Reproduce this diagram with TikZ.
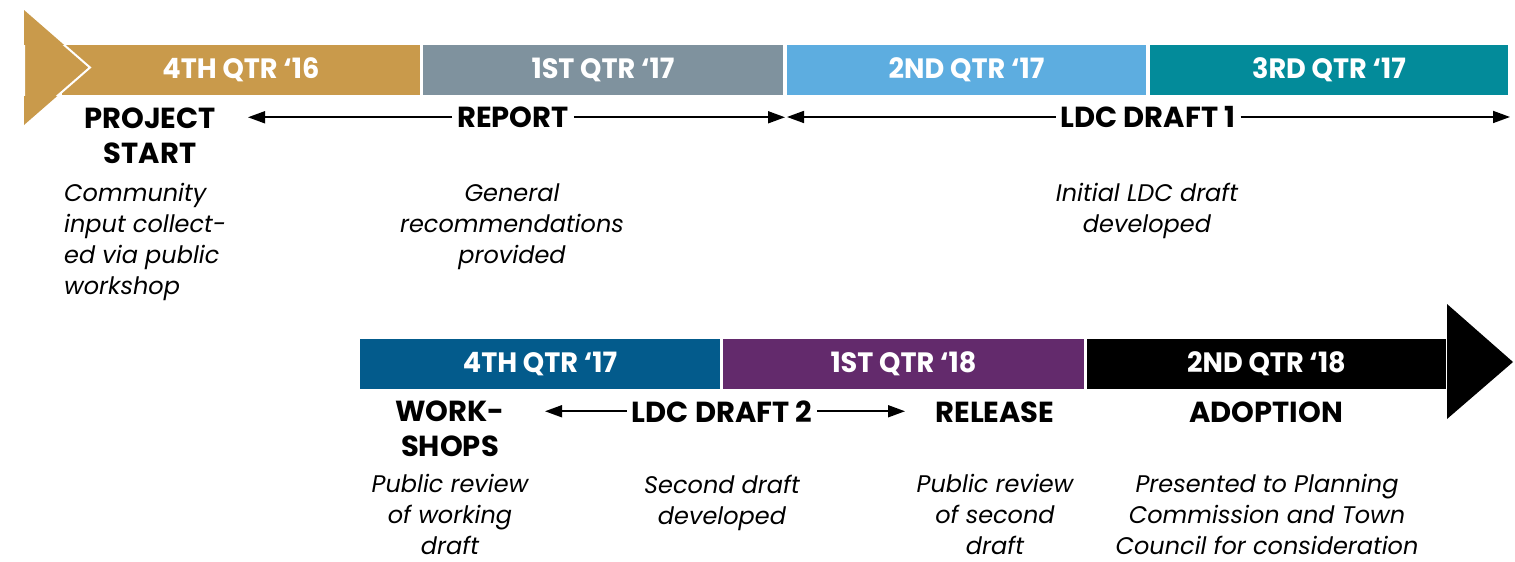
\documentclass[tikz,border=0pt]{standalone}
\usepackage{fontspec}
\setmainfont{Poppins}
\newfontfamily\hdfont{Poppins}
\newfontfamily\qfont[FakeStretch=0.97]{Poppins}
\newfontfamily\notefont{Poppins}
\usetikzlibrary{arrows.meta}

\definecolor{qgold}{HTML}{C99A4B}
\definecolor{qgray}{HTML}{7F929E}
\definecolor{qsky}{HTML}{5DADE0}
\definecolor{qteal}{HTML}{038B9A}
\definecolor{qnavy}{HTML}{035B8C}
\definecolor{qplum}{HTML}{632A6C}

\tikzset{
  seg/.style={rectangle, inner sep=0pt, minimum height=50pt, text=white,
    font=\qfont\bfseries\fontsize{28}{28}\selectfont},
  head/.style={inner xsep=5pt, inner ysep=0pt, anchor=base, align=center,
    font=\hdfont\bfseries\fontsize{29}{35}\selectfont},
  note/.style={inner sep=0pt, anchor=base, align=center,
    font=\notefont\itshape\fontsize{24}{31}\selectfont},
  span/.style={line width=1.7pt, -{Triangle[length=17pt,width=12pt]}},
  cap/.style={fill=#1, draw=white, line width=2pt, line join=miter}
}

\begin{document}
\begin{tikzpicture}[x=1pt,y=-1pt]
\useasboundingbox (0,0) rectangle (1515,562);

% ---- 2016 / 2017 row ----
\node[seg, fill=qgold, minimum width=358pt] (q416) at (241,70) {4TH QTR ‘16};
\node[seg, fill=qgray, minimum width=360pt] (q117) at (603,70) {1ST QTR ‘17};
\node[seg, fill=qsky,  minimum width=359pt] (q217) at (966.5,70) {2ND QTR ‘17};
\node[seg, fill=qteal, minimum width=358pt] (q317) at (1329,70) {3RD QTR ‘17};
\fill[qgold] (24,10) -- (90,67.5) -- (24,125) -- cycle;
\begin{scope}
  \clip (24,45) rectangle (100,95);
  \draw[cap=qgold] (24,10) -- (90,67.5) -- (24,125) -- cycle;
\end{scope}

% labels: the base anchor sits on the last line's baseline
\node[head] (pstart) at (150,163) {PROJECT\\START};
\node[head] (report) at (513,127.5) {REPORT};
\node[head] (draft1) at (1148,127.5) {LDC DRAFT 1};

\coordinate (r1) at (248,117);
\coordinate (r2) at (785,117);
\coordinate (d1) at (787,117);
\coordinate (d2) at (1510,117);
\draw[span] (report.west) -- (r1 |- report.west);
\draw[span] (report.east) -- (r2 |- report.east);
\draw[span] (draft1.west) -- (d1 |- draft1.west);
\draw[span] (draft1.east) -- (d2 |- draft1.east);

\node[note, align=left, anchor=base west] (n1) at (64,294)
  {Community\\input collect-\\ed via public\\workshop};
\node[note] (n2) at (512,263) {General\\recommendations\\provided};
\node[note] (n3) at (1147,232) {Initial LDC draft\\developed};

% ---- 2017 / 2018 row ----
\node[seg, fill=qnavy, minimum width=360pt] (q417) at (540,364) {4TH QTR ‘17};
\node[seg, fill=qplum, minimum width=361pt] (q118) at (903.5,364) {1ST QTR ‘18};
\node[seg, fill=black, minimum width=359pt] (q218) at (1266.5,364) {2ND QTR ‘18};
\fill[black] (1447,304) -- (1513,362) -- (1447,419) -- cycle;

\node[head] (wshops)  at (450,456) {WORK-\\SHOPS};
\node[head] (draft2)  at (722,422) {LDC DRAFT 2};
\node[head] (release) at (995,422) {RELEASE};
\node[head] (adopt)   at (1266,422) {ADOPTION};

\coordinate (w1) at (545,412);
\coordinate (w2) at (905,412);
\draw[span] (draft2.west) -- (w1 |- draft2.west);
\draw[span] (draft2.east) -- (w2 |- draft2.east);

\node[note] (n4) at (450,554) {Public review\\of working\\draft};
\node[note] (n5) at (722,524) {Second draft\\developed};
\node[note] (n6) at (995,554) {Public review\\of second\\draft};
\node[note] (n7) at (1267,554) {Presented to Planning\\Commission and Town\\Council for consideration};
\end{tikzpicture}
\end{document}
